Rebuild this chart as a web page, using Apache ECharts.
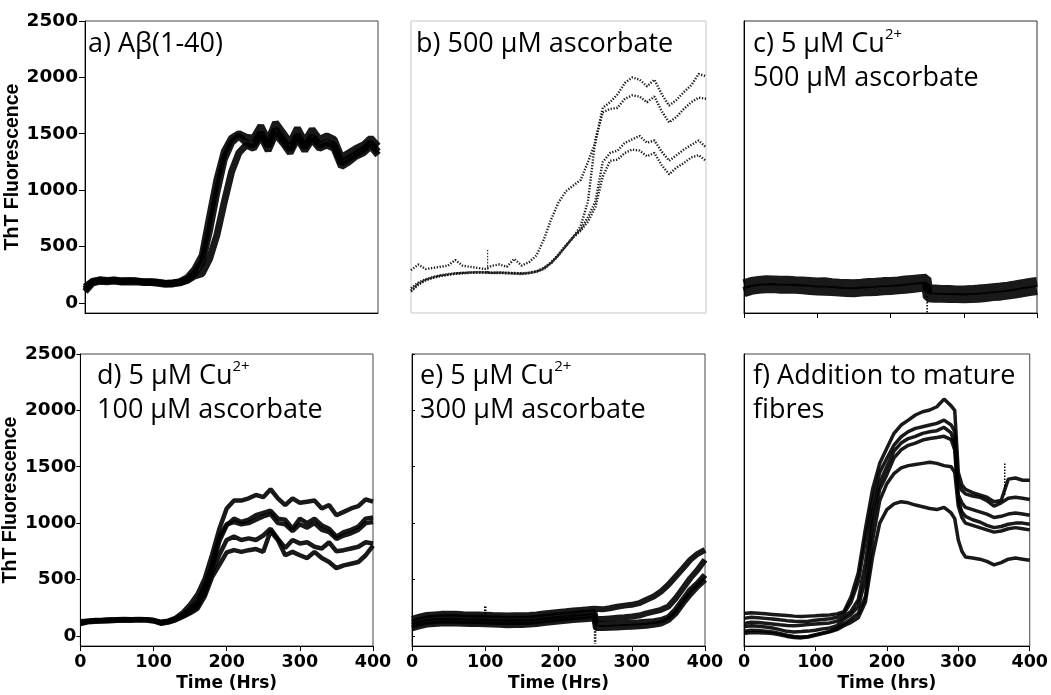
<!DOCTYPE html>
<html>
<head>
<meta charset="utf-8">
<script src="https://cdn.jsdelivr.net/npm/echarts@6/dist/echarts.min.js"></script>
<style>
  html, body { margin: 0; padding: 0; background: #fff; }
  #chart { width: 1051px; height: 695px; }
</style>
</head>
<body>
<div id="chart"></div>
<script>
// ---- axis ticks ----
const yTicks = [0, 500, 1000, 1500, 2000, 2500];

// ---- sampling times (hours) ----
const hrs10 = [0,10,20,30,40,50,60,70,80,90,100,110,120,130,140,150,160,170,180,190,200,
               210,220,230,240,250,260,270,280,290,300,310,320,330,340,350,360,370,380,390,400];
const hrsStep = [0,10,20,30,40,50,60,70,80,90,100,110,120,130,140,150,160,170,180,190,200,
                 210,220,230,240,249,251,260,270,280,290,300,310,320,330,340,350,360,370,380,390,400];
const hrsF = [0,10,20,30,40,50,60,70,80,90,100,110,120,130,140,150,160,170,180,190,200,
              210,220,230,240,250,260,270,280,290,295,300,305,310,320,330,340,350,360,370,380,390,400];

// ---- a) Aβ(1-40) ----
const a1 = [120,185,200,195,200,192,195,192,186,185,180,172,176,188,225,300,420,760,1090,1340,
            1460,1500,1470,1460,1570,1440,1600,1510,1420,1550,1430,1540,1450,1480,1450,1290,1330,1370,1400,1460,1390];
const a2 = [100,175,192,188,194,185,188,186,180,180,174,164,168,178,205,265,360,640,980,1270,
            1420,1480,1420,1400,1510,1390,1540,1450,1360,1490,1380,1480,1400,1420,1400,1240,1280,1320,1360,1420,1340];
const a3 = [140,190,204,198,203,195,197,195,188,188,182,172,176,182,200,240,260,390,600,890,
            1160,1330,1400,1370,1480,1350,1500,1420,1330,1460,1350,1450,1370,1400,1370,1210,1250,1300,1330,1390,1310];

// ---- b) 500 µM ascorbate ----
const b1 = [290,340,300,310,320,330,380,330,320,310,300,330,340,320,390,330,360,420,560,740,
            890,990,1040,1090,1250,1420,1730,1780,1850,1950,2000,1980,1920,1980,1850,1750,1800,1870,1930,2030,2010];
const b2 = [110,170,205,225,240,250,260,265,270,272,272,268,270,268,265,262,268,280,310,360,
            430,510,580,680,900,1450,1690,1720,1730,1810,1840,1830,1780,1830,1700,1600,1650,1720,1780,1820,1810];
const b3 = [100,160,200,222,238,248,258,262,266,268,268,264,265,262,258,255,262,275,300,350,
            420,500,590,650,760,900,1250,1330,1350,1420,1450,1480,1420,1440,1340,1260,1310,1360,1400,1440,1380];
const b4 = [130,180,210,230,245,255,262,266,270,272,270,266,268,265,262,260,265,278,305,355,
            425,505,580,640,720,850,1120,1260,1270,1330,1360,1350,1300,1330,1220,1140,1200,1240,1290,1310,1260];
const spikeHrsB = [104], spikeFromB = [270], spikeToB = [480];

// ---- c) 5 µM Cu2+, 500 µM ascorbate ----
const c1 = [165,185,195,200,198,196,195,192,190,186,180,182,175,170,168,166,170,176,178,184,
            186,190,198,204,210,215,120,118,115,114,110,110,113,118,124,130,136,143,154,166,176,186];
const c2 = [95,115,125,130,132,124,125,124,120,114,110,108,105,100,96,94,100,104,106,112,
            114,120,126,132,140,145,50,46,45,42,42,40,43,46,52,60,64,73,82,94,104,114];
const spikeHrsC = [250], spikeFromC = [60], spikeToC = [-85];

// ---- d) 5 µM Cu2+, 100 µM ascorbate ----
const d1 = [130,135,140,140,145,148,150,148,150,148,140,125,135,160,210,280,370,510,720,950,
            1130,1200,1200,1220,1250,1230,1300,1220,1160,1220,1180,1190,1200,1130,1160,1070,1100,1130,1150,1210,1190];
const d2 = [120,130,135,138,140,142,145,144,146,144,138,118,128,150,185,230,290,420,600,840,
            980,1040,1010,1030,1070,1090,1110,1040,1030,950,1040,1000,1040,980,950,880,920,940,970,1040,1050];
const d3 = [110,125,130,132,135,138,140,140,142,140,132,112,122,142,175,210,260,380,560,720,
            850,880,850,865,850,890,950,860,780,850,820,830,790,775,830,750,760,775,790,830,820];
const d4 = [105,120,126,128,130,134,136,135,138,136,128,108,118,138,168,200,240,350,520,630,
            740,760,745,760,770,745,930,850,715,745,715,690,745,690,655,600,625,640,655,715,800];
const d5 = [125,132,138,140,143,145,147,146,148,146,140,120,130,152,190,240,310,450,640,880,
            990,1010,990,1000,1030,1060,1080,1000,990,930,990,960,1000,940,920,860,890,910,940,1000,1010];

// ---- e) 5 µM Cu2+, 300 µM ascorbate ----
const e1 = [150,170,185,190,195,197,195,192,190,190,188,185,183,180,182,182,185,190,198,205,
            212,218,225,230,235,240,230,235,245,258,268,275,290,320,349,393,453,527,600,675,728,763];
const e2 = [120,140,155,160,165,167,165,162,160,160,158,155,153,150,152,152,155,160,168,175,
            182,188,195,200,205,210,150,150,155,160,165,172,180,200,215,231,260,334,423,512,586,675];
const e3 = [92,110,125,130,135,137,135,132,130,130,128,125,123,120,122,122,125,130,138,145,
            152,158,165,170,175,180,110,105,108,112,115,118,120,125,130,140,165,231,320,408,467,540];
const e4 = [67,85,100,105,110,112,110,107,105,105,103,100,98,95,97,97,100,105,113,120,
            127,133,140,145,150,155,70,70,72,75,78,80,85,90,98,110,140,200,290,370,440,500];
const spikeHrsE = [100, 250], spikeFromE = [140, 200], spikeToE = [270, -70];

// ---- f) Addition to mature fibres ----
const f1 = [198,205,200,195,190,185,180,175,172,175,178,182,186,195,215,350,560,950,1300,1530,
            1663,1796,1870,1914,1959,1988,2003,2032,2100,2040,2000,1450,1340,1300,1270,1250,1230,1190,1200,1390,1400,1380,1380];
const f2 = [155,165,160,155,150,142,135,130,128,130,138,145,152,165,200,300,480,850,1200,1450,
            1574,1692,1766,1811,1840,1855,1870,1885,1914,1870,1811,1350,1290,1260,1240,1230,1200,1150,1180,1220,1230,1220,1210];
const f3 = [110,120,118,112,105,98,92,90,95,100,105,110,115,130,170,220,320,650,1100,1360,
            1500,1640,1710,1750,1770,1796,1810,1820,1850,1800,1700,1250,1180,1140,1120,1100,1080,1050,1060,1080,1090,1080,1070];
const f4 = [80,90,85,78,70,55,40,35,38,42,50,62,70,90,150,190,260,500,1000,1300,
            1430,1580,1650,1690,1710,1737,1750,1760,1770,1740,1650,1200,1100,1060,1030,1010,980,960,970,990,1000,1000,990];
const f5 = [40,50,48,42,35,22,5,-5,-10,-5,10,25,40,65,110,150,200,350,850,1200,
            1350,1440,1490,1510,1520,1530,1540,1530,1510,1500,1450,1150,1050,1000,980,960,940,920,930,950,960,950,940];
const f6 = [20,30,28,25,20,10,-5,-15,-18,-10,5,20,35,55,90,120,160,300,700,1000,
            1120,1170,1190,1180,1160,1145,1130,1120,1140,1090,1040,850,750,700,690,680,660,630,650,680,690,680,670];
const spikeHrsF = [365], spikeFromF = [1250], spikeToF = [1530];

// ---- helpers ----
const pair = (hrs, vals) => hrs.map((h, i) => [h, vals[i]]);
const AXIS_FONT = 'DejaVu Sans';
const TITLE_FONT = 'Open Sans';

function trace(panel, hrs, vals, width, dotted) {
  return {
    type: 'line', xAxisIndex: panel, yAxisIndex: panel,
    data: pair(hrs, vals), symbol: 'none', silent: true,
    lineStyle: dotted
      ? { color: '#111', width: width, type: [1.3, 1.6], opacity: 0.95 }
      : { color: '#000', width: width, opacity: 0.9 },
    z: 3
  };
}
function spikes(panel, hrs, from, to, width) {
  return hrs.map((h, i) => ({
    type: 'line', xAxisIndex: panel, yAxisIndex: panel, silent: true,
    data: [[h, from[i]], [h, to[i]]], symbol: 'none',
    lineStyle: { color: '#000', width: width, type: [1.5, 1.5] }, z: 4
  }));
}

const grids = [
  { left: 85,  top: 21,  width: 293, height: 292, borderColor: '#444' },
  { left: 411, top: 21,  width: 295, height: 292, borderColor: '#c8c8c8' },
  { left: 744, top: 21,  width: 293, height: 292, borderColor: '#333' },
  { left: 80,  top: 354, width: 293, height: 292, borderColor: '#444' },
  { left: 412, top: 354, width: 293, height: 292, borderColor: '#444' },
  { left: 744, top: 354, width: 293, height: 292, borderColor: '#444' }
].map(g => Object.assign({ show: true, borderWidth: 1, backgroundColor: 'transparent', containLabel: false }, g));

const labelBase = { fontFamily: AXIS_FONT, fontWeight: 'bold', color: '#000', formatter: v => String(v) };

function xAxisFor(i, opt) {
  return {
    type: 'value', gridIndex: i, min: 0, max: 400, interval: 100,
    splitLine: { show: false },
    axisLine: { show: opt.line, onZero: false, lineStyle: { color: '#000', width: 1 } },
    axisTick: { show: opt.ticks, length: 5, inside: false, lineStyle: { color: '#000' } },
    axisLabel: Object.assign({ show: !!opt.labels, margin: 7, fontSize: 17.5 }, labelBase),
    name: opt.name || '', nameLocation: 'middle', nameGap: 29,
    nameTextStyle: { fontFamily: AXIS_FONT, fontWeight: 'bold', fontSize: 17, color: '#000' }
  };
}
function yAxisFor(i, opt) {
  return {
    type: 'value', gridIndex: i, min: -90, max: 2500,
    splitLine: { show: false },
    axisLine: { show: opt.line, onZero: false, lineStyle: { color: '#000', width: 1 } },
    axisTick: { show: opt.ticks, customValues: yTicks, length: opt.tickLen || 5,
                inside: !!opt.inside, lineStyle: { color: '#000' } },
    axisLabel: Object.assign({ show: !!opt.labels, customValues: yTicks, margin: opt.margin || 7, fontSize: 18.5 }, labelBase),
    name: opt.labels ? 'ThT Fluorescence' : '', nameLocation: 'middle', nameGap: opt.nameGap || 54,
    nameTextStyle: { fontFamily: 'Liberation Sans', fontWeight: 'bold', fontSize: 19.5, color: '#000' }
  };
}

const xAxes = [
  xAxisFor(0, { line: true,  ticks: false }),
  xAxisFor(1, { line: false, ticks: false }),
  xAxisFor(2, { line: true,  ticks: true }),
  xAxisFor(3, { line: true,  ticks: true, labels: true, name: 'Time (Hrs)' }),
  xAxisFor(4, { line: true,  ticks: true, labels: true, name: 'Time (Hrs)' }),
  xAxisFor(5, { line: true,  ticks: true, labels: true, name: 'Time (hrs)' })
];
const yAxes = [
  yAxisFor(0, { line: true,  ticks: true, labels: true, tickLen: 6, margin: 7, nameGap: 56 }),
  yAxisFor(1, { line: false, ticks: false }),
  yAxisFor(2, { line: true,  ticks: false }),
  yAxisFor(3, { line: true,  ticks: true, labels: true, tickLen: 4, margin: 4, nameGap: 51 }),
  yAxisFor(4, { line: true,  ticks: true, inside: true, tickLen: 3 }),
  yAxisFor(5, { line: true,  ticks: false })
];

const rich = {
  t: { fontFamily: TITLE_FONT, fontSize: 27, fontWeight: 'normal', lineHeight: 34, color: '#000' },
  s: { fontFamily: TITLE_FONT, fontSize: 15, fontWeight: 'normal', lineHeight: 22, verticalAlign: 'top', color: '#000' }
};
function panelTitle(text, left, top) {
  return { text: text, left: left, top: top, padding: 0,
           textStyle: { fontWeight: 'normal', fontFamily: TITLE_FONT, rich: rich } };
}
const titles = [
  panelTitle('{t|a) Aβ(1-40)}', 88, 27),
  panelTitle('{t|b) 500 µM ascorbate}', 416, 27),
  panelTitle('{t|c) 5 µM Cu}{s|2+}\n{t|500 µM ascorbate}', 753, 27),
  panelTitle('{t|d) 5 µM Cu}{s|2+}\n{t|100 µM ascorbate}', 97, 359),
  panelTitle('{t|e) 5 µM Cu}{s|2+}\n{t|300 µM ascorbate}', 420, 359),
  panelTitle('{t|f) Addition to mature}\n{t|fibres}', 753, 359)
];

const series = [
  trace(0, hrs10, a3, 7), trace(0, hrs10, a2, 7), trace(0, hrs10, a1, 7),
  trace(1, hrs10, b1, 2.4, true), trace(1, hrs10, b2, 2.4, true),
  trace(1, hrs10, b3, 2.4, true), trace(1, hrs10, b4, 2.4, true),
  ...spikes(1, spikeHrsB, spikeFromB, spikeToB, 1),
  trace(2, hrsStep, c1, 10), trace(2, hrsStep, c2, 10),
  ...spikes(2, spikeHrsC, spikeFromC, spikeToC, 1.5),
  trace(3, hrs10, d1, 4.5), trace(3, hrs10, d2, 4.5), trace(3, hrs10, d5, 4.5),
  trace(3, hrs10, d3, 4.5), trace(3, hrs10, d4, 4.5),
  trace(4, hrsStep, e1, 6), trace(4, hrsStep, e2, 6), trace(4, hrsStep, e3, 6), trace(4, hrsStep, e4, 6),
  ...spikes(4, spikeHrsE, spikeFromE, spikeToE, 2.5),
  trace(5, hrsF, f1, 3.5), trace(5, hrsF, f2, 3.5), trace(5, hrsF, f3, 3.5),
  trace(5, hrsF, f4, 3.5), trace(5, hrsF, f5, 3.5), trace(5, hrsF, f6, 3.5),
  ...spikes(5, spikeHrsF, spikeFromF, spikeToF, 1.5)
];

const chart = echarts.init(document.getElementById('chart'), null, { renderer: 'canvas' });
chart.setOption({
  animation: false,
  backgroundColor: '#fff',
  title: titles,
  grid: grids,
  xAxis: xAxes,
  yAxis: yAxes,
  series: series
});
</script>
</body>
</html>
